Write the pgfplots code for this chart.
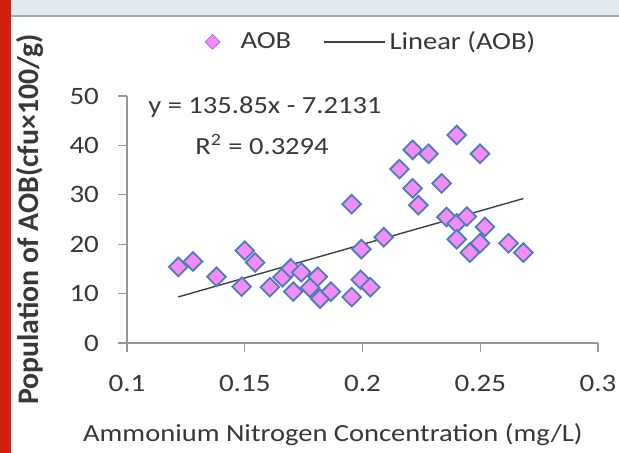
\documentclass[border=0pt]{standalone}
\usepackage{pgfplots}
\pgfplotsset{compat=1.18}
\usepackage{pgfplotstable}
\usepackage{fontspec}
\setmainfont{Carlito}[FakeStretch=1.16]
\newfontfamily\ylabfont{Carlito}
\definecolor{aobfill}{RGB}{245,140,245}
\definecolor{aobedge}{RGB}{74,126,187}
\definecolor{txt}{RGB}{56,56,56}
\definecolor{axc}{RGB}{150,150,150}
\definecolor{band}{RGB}{228,234,242}
\definecolor{bandline}{RGB}{166,166,166}
\definecolor{redbar}{RGB}{212,32,16}
\pgfplotsset{
  linelegend/.style={legend image code/.code={\draw[##1] (-2pt,0pt) -- (28.5pt,0pt);}},
  marklegend/.style={legend image code/.code={%
    \path[draw=none,fill=none] (-4pt,0pt) -- (12pt,0pt);
    \path[draw=none,fill=none] (0pt,0pt) node[inner sep=0pt, minimum size=7.5pt, diamond, fill=aobfill, draw=aobfill!60!blue!90, line width=0.4pt] {};}},
}
\usetikzlibrary{shapes.geometric}

\pgfplotstableread{
x y
0.1218 15.4
0.1280 16.5
0.1380 13.4
0.1487 11.4
0.1500 18.7
0.1544 16.3
0.1607 11.3
0.1660 13.3
0.1695 15.1
0.1706 10.4
0.1740 14.3
0.1777 11.2
0.1810 13.4
0.1820 9.0
0.1866 10.4
0.1954 9.3
0.1954 28.1
0.1995 19.0
0.1992 12.8
0.2033 11.3
0.2090 21.4
0.2157 35.2
0.2213 39.1
0.2280 38.3
0.2213 31.3
0.2237 27.9
0.2336 32.3
0.2400 42.1
0.2499 38.3
0.2357 25.5
0.2400 24.2
0.2443 25.6
0.2520 23.5
0.2400 21.0
0.2456 18.3
0.2499 20.2
0.2620 20.2
0.2683 18.3
}\aob

\pgfplotstableread{
x y
0.1218 9.333
0.2683 29.236
}\trend

\begin{document}
\begin{tikzpicture}
\fill[white] (0,0) rectangle (309.5pt,226.5pt);
\fill[band] (0,219pt) rectangle (309.5pt,226.5pt);
\fill[bandline] (0,218pt) rectangle (309.5pt,219pt);
\fill[redbar] (0,0) rectangle (5.5pt,226.5pt);
\begin{axis}[
  at={(63.5pt,55pt)}, anchor=south west,
  scale only axis, width=235.5pt, height=123.5pt,
  xmin=0.1, xmax=0.3, ymin=0, ymax=50,
  axis lines=left,
  axis line style={-, draw=axc, line width=0.6pt},
  xtick={0.1,0.15,0.2,0.25,0.3},
  xticklabels={0.1,0.15,0.2,0.25,0.3},
  ytick={0,10,20,30,40,50},
  yticklabels={0,10,20,30,40,50},
  tick align=outside, major tick length=4.5pt,
  tick style={draw=axc, line width=0.6pt},
  ticklabel style={font=\fontsize{12.5}{14}\selectfont, text=txt},
  xticklabel style={yshift=-8pt},
  yticklabel style={xshift=-6pt},
  /pgf/number format/assume math mode=true,
  xlabel={Ammonium Nitrogen Concentration (mg/L)},
  ylabel={\ylabfont\bfseries Population of AOB(cfu×100/g)},
  every axis x label/.style={at={(rel axis cs:0.437,-0.3725)}, anchor=center, font=\fontsize{12.3}{14}\selectfont, text=txt},
  every axis y label/.style={at={(rel axis cs:-0.206,0.5)}, rotate=90, anchor=center, font=\fontsize{14.9}{16}\selectfont, text=txt},
  legend style={at={(rel axis cs:0.52,1.219)}, anchor=center, draw=none, fill=none,
    legend columns=2, font=\fontsize{12.3}{14}\selectfont, text=txt,
    /tikz/every even column/.append style={column sep=14pt}},
  clip=false,
]
\addplot[only marks, mark=square*, mark size=3.3pt,
  mark options={rotate=45, fill=aobfill, draw=aobedge, line width=0.9pt}, marklegend]
  table[x=x,y=y]{\aob};
\addlegendentry{AOB}
\addplot[draw=black!75, line width=0.7pt, no marks, linelegend]
  table[x=x,y=y]{\trend};
\addlegendentry{Linear (AOB)}
\node[anchor=west, font=\fontsize{12.3}{14}\selectfont, text=txt, inner sep=0pt] at (rel axis cs:0.0446,0.955) {y = 135.85x - 7.2131};
\node[anchor=center, font=\fontsize{12.3}{14}\selectfont, text=txt, inner sep=0pt] at (rel axis cs:0.2866,0.805) {R\textsuperscript{2} = 0.3294};
\end{axis}
\pgfresetboundingbox
\path[use as bounding box] (0,0) rectangle (309.5pt,226.5pt);
\end{tikzpicture}
\end{document}
